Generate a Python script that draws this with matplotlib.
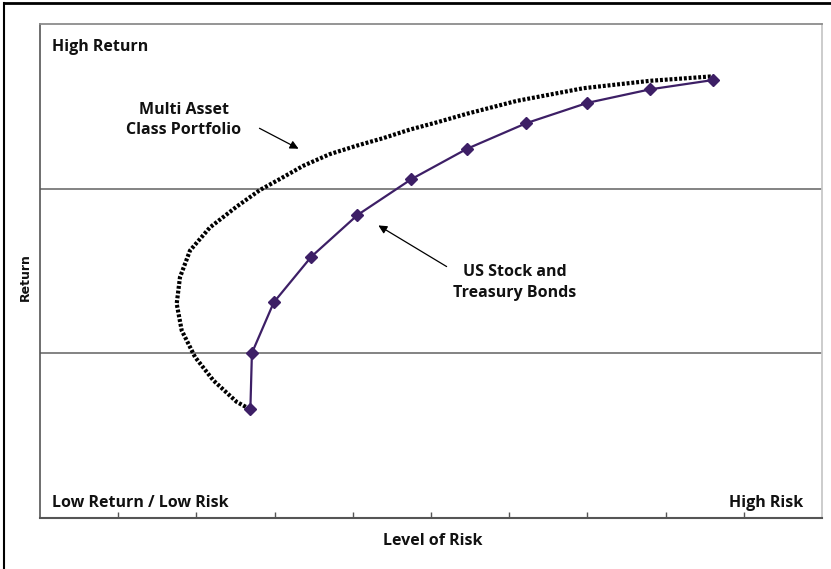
import matplotlib
matplotlib.use("Agg")
import matplotlib.pyplot as plt
from matplotlib.patches import FancyArrowPatch
from matplotlib.lines import Line2D

# US Stock and Treasury Bonds frontier
stock_bond_risk = [2.69, 2.71, 2.99, 3.47, 4.06, 4.75, 5.46, 6.22, 7.00, 7.80, 8.61]
stock_bond_return = [0.659, 1.002, 1.31, 1.587, 1.84, 2.058, 2.242, 2.398, 2.521, 2.603, 2.66]

# Multi asset class portfolio frontier
multi_risk = [2.685, 2.515, 2.216, 1.982, 1.812, 1.748, 1.790, 1.918, 2.174, 2.515,
              2.813, 3.069, 3.367, 3.708, 4.050, 4.390, 4.731, 5.077, 5.460, 6.096,
              6.948, 7.801, 8.568, 8.61]
multi_return = [0.661, 0.705, 0.836, 0.978, 1.139, 1.301, 1.462, 1.624, 1.765, 1.891,
                1.992, 2.059, 2.139, 2.210, 2.261, 2.307, 2.359, 2.403, 2.455, 2.533,
                2.610, 2.655, 2.681, 2.68]

x_ticks = [1, 2, 3, 4, 5, 6, 7, 8, 9]
y_grid = [1, 2]

W, H = 831, 569
fig = plt.figure(figsize=(W / 100, H / 100), dpi=100)
font = ["Open Sans", "DejaVu Sans"]

ax = fig.add_axes([40 / W, 1 - 518 / H, (822 - 40) / W, (518 - 24) / H])
ax.set_xlim(0, 10)
ax.set_ylim(0, 3)

ax.plot(multi_risk, multi_return, color="black", linewidth=3.0,
        linestyle=(0, (0.7, 0.45)), dash_capstyle="butt", zorder=3)
ax.plot(stock_bond_risk, stock_bond_return, color="#3d1f66", linewidth=1.6,
        marker="D", markersize=6, markerfacecolor="#3d1f66",
        markeredgecolor="#3d1f66", zorder=4)

for g in y_grid:
    ax.axhline(g, color="#6e6e6e", linewidth=1.2, zorder=1)

ax.set_xticks(x_ticks)
ax.set_xticklabels([])
ax.set_yticks([])
ax.tick_params(axis="x", direction="in", length=4, width=1, color="#555555")
ax.spines["top"].set_color("#8c8c8c")
ax.spines["top"].set_linewidth(1.3)
ax.spines["right"].set_color("#c8c8c8")
ax.spines["right"].set_linewidth(1.3)
ax.spines["bottom"].set_color("#555555")
ax.spines["bottom"].set_linewidth(1.5)
ax.spines["left"].set_color("#555555")
ax.spines["left"].set_linewidth(1.2)

def px(xp, yp):
    return (xp / W, 1 - yp / H)

tk = dict(fontsize=11.5, fontweight="bold", family=font, color="#111111")
fig.text(*px(52, 47), "High Return", ha="left", va="center", **tk)
fig.text(*px(52, 503), "Low Return / Low Risk", ha="left", va="center", **tk)
fig.text(*px(803, 503), "High Risk", ha="right", va="center", **tk)
fig.text(*px(184, 110), "Multi Asset", ha="center", va="center", **tk)
fig.text(*px(184, 130), "Class Portfolio", ha="center", va="center", **tk)
fig.text(*px(515, 272), "US Stock and", ha="center", va="center", **tk)
fig.text(*px(515, 293), "Treasury Bonds", ha="center", va="center", **tk)
fig.text(*px(433, 541), "Level of Risk", ha="center", va="center", **tk)
fig.text(*px(25, 277), "Return", ha="center", va="center", rotation=90,
         fontsize=9, fontweight="bold", family="DejaVu Sans", color="#111111")

for (t, h) in [((257, 127), (301, 150)), ((449, 268), (376, 224))]:
    arr = FancyArrowPatch(px(*t), px(*h), transform=fig.transFigure,
                          arrowstyle="-|>,head_length=5,head_width=2.5",
                          color="black", linewidth=0.9, mutation_scale=1)
    fig.add_artist(arr)

# outer frame (top and left edges visible)
fig.add_artist(Line2D([4 / W, 4 / W], [0, 1 - 3 / H], transform=fig.transFigure,
                      color="black", linewidth=1.5))
fig.add_artist(Line2D([4 / W, 1], [1 - 3 / H, 1 - 3 / H], transform=fig.transFigure,
                      color="black", linewidth=2))

fig.savefig("out.png", dpi=100)
